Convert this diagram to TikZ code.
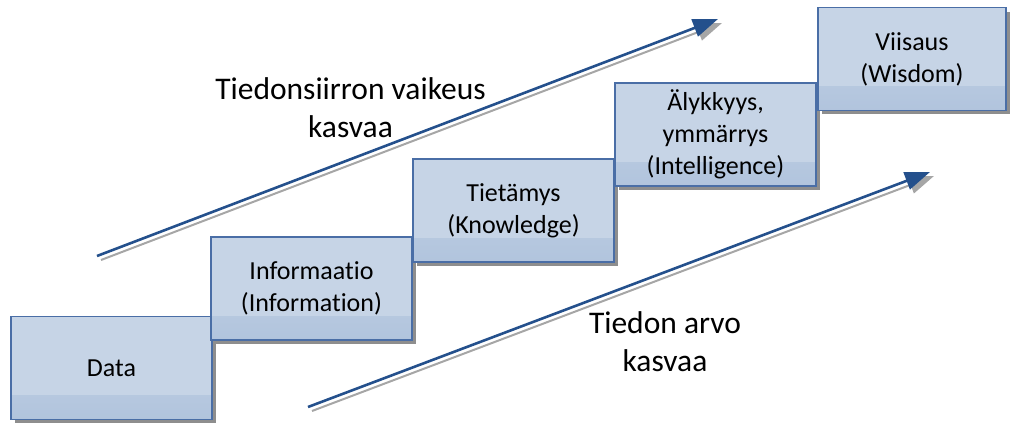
\documentclass[tikz,border=0pt]{standalone}
\usepackage{fontspec}
\setmainfont{Carlito}[Ligatures={NoCommon}]
\usetikzlibrary{arrows.meta}
\definecolor{boxfill}{HTML}{C6D4E6}
\definecolor{boxdark}{HTML}{B1C4DD}
\definecolor{boxline}{HTML}{4A6EA6}
\definecolor{boxshadow}{HTML}{8E8E8E}
\definecolor{arrowblue}{HTML}{24508C}
\definecolor{arrowshadow}{HTML}{A6A6A6}
\tikzset{
  stagebox/.style={
    draw=boxline, line width=1.1pt, fill=boxfill,
    minimum width=201pt, minimum height=103pt, inner sep=0pt,
    align=center, font=\fontsize{26}{32}\selectfont,
    path picture={\shade[top color=boxfill, bottom color=boxdark]
      ([yshift=24pt]path picture bounding box.south west) rectangle
      (path picture bounding box.south east);}},
  boxshade/.style={fill=boxshadow, draw=none},
  trend/.style={draw=arrowblue, line width=2.6pt,
    -{Triangle[length=25pt,width=18pt]}},
  trendshade/.style={draw=arrowshadow, line width=2pt,
    -{Triangle[length=25pt,width=18pt]}},
  caption/.style={align=center, font=\fontsize{31.5}{38}\selectfont}
}
\begin{document}
\begin{tikzpicture}[x=1pt, y=-1pt]
\useasboundingbox (0,0) rectangle (1013,423);

% drop shadows of the stair steps
\foreach \l/\t/\r/\b in {11/316/212/420, 211/237/412/340, 413/159/614/262,
                          615/83/816/186, 818/8/1006/110}
  \fill[boxshade] (\l+3.5,\t+3.5) rectangle (\r+3.5,\b+3.5);

% the five steps
\node[stagebox] (data)  at (111.5,368)  {Data};
\node[stagebox] (info)  at (311.5,288.5) {Informaatio\\(Information)};
\node[stagebox] (know)  at (513.5,210.5) {Tietämys\\(Knowledge)};
\node[stagebox] (intel) at (715.5,134.5) {Älykkyys,\\ymmärrys\\(Intelligence)};
\node[stagebox, minimum width=188pt] (wis) at (912,59) {Viisaus\\(Wisdom)};

% trend arrows with their shadows
\coordinate (upA) at (97,256);
\coordinate (upB) at (718,19);
\coordinate (loA) at (308,407);
\coordinate (loB) at (930,172);
\draw[trendshade] ([xshift=4pt,yshift=-4pt]upA) -- ([xshift=4pt,yshift=-4pt]upB);
\draw[trendshade] ([xshift=4pt,yshift=-4pt]loA) -- ([xshift=4pt,yshift=-4pt]loB);
\draw[trend] (upA) -- (upB);
\draw[trend] (loA) -- (loB);

% captions
\node[caption] (difficulty) at (350.5,107.5) {Tiedonsiirron vaikeus\\kasvaa};
\node[caption] (value) at (665,342) {Tiedon arvo\\kasvaa};
\end{tikzpicture}
\end{document}
